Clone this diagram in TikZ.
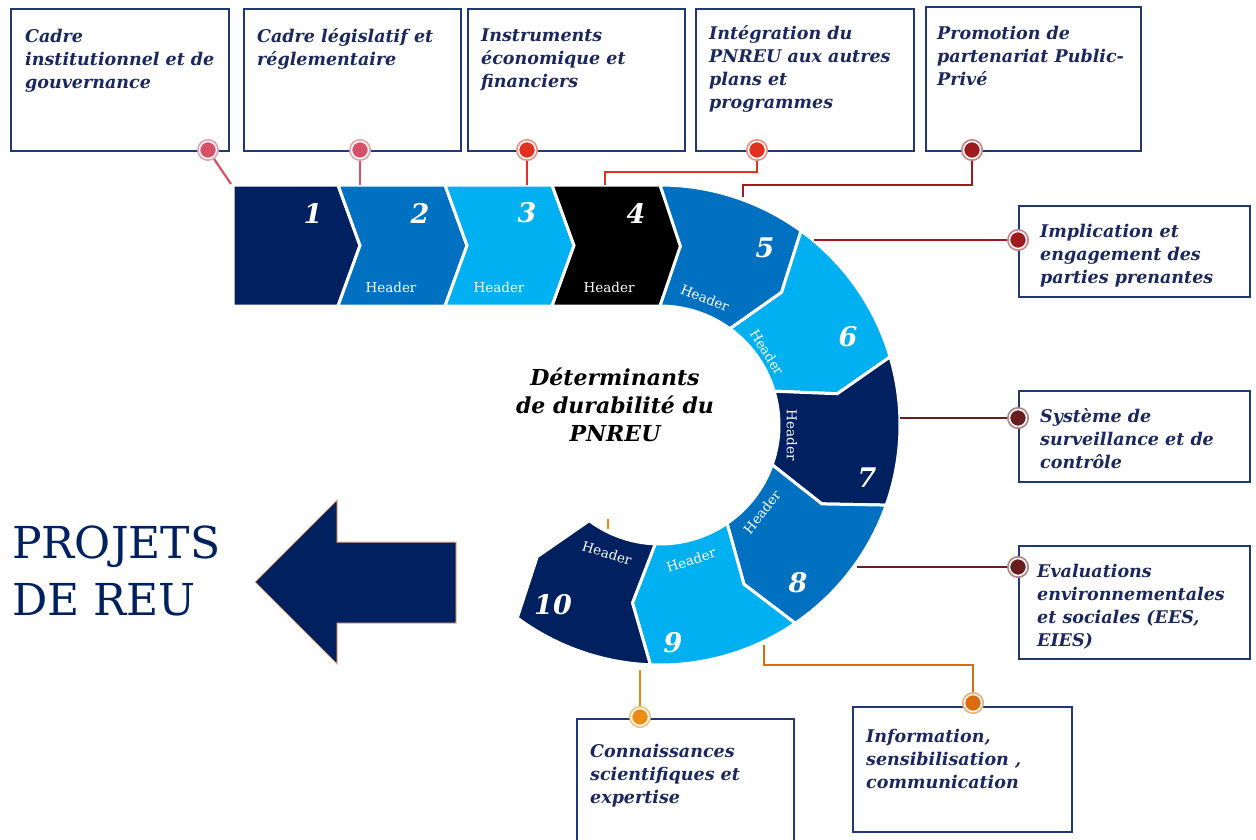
\documentclass[tikz,border=0pt]{standalone}
\usepackage{fontspec}
\setmainfont{DejaVu Serif}
\usepackage{xcolor}
\usepackage{tikz}

\definecolor{navyseg}{RGB}{0,32,96}
\definecolor{midblue}{RGB}{0,112,192}
\definecolor{skyblue}{RGB}{0,176,240}
\definecolor{boxline}{RGB}{31,56,120}
\definecolor{boxtextc}{RGB}{27,40,95}
\definecolor{pinrose}{RGB}{214,80,104}
\definecolor{pinred}{RGB}{224,50,30}
\definecolor{pinwine}{RGB}{158,28,30}
\definecolor{pinbrown}{RGB}{105,30,30}
\definecolor{pinorange}{RGB}{236,140,16}
\definecolor{pinamber}{RGB}{222,108,14}
\definecolor{arrowedge}{RGB}{244,177,131}

\tikzset{
  infobox/.style={draw=boxline, line width=2.2pt, fill=white, anchor=north west, inner sep=0pt},
  boxtext/.style={anchor=north west, inner sep=0pt, align=left, text=boxtextc,
    font=\fontsize{17.5}{23}\selectfont\bfseries\itshape},
  dotpin/.style={circle, fill=#1, draw=white, line width=1.5pt, minimum size=17pt,
    inner sep=0pt, outer sep=2.5pt, preaction={draw=#1!55, line width=5pt}},
  link/.style={draw=#1, line width=2.2pt},
  segedge/.style={draw=white, line width=3pt},
  segnum/.style={text=white, font=\fontsize{27}{27}\selectfont\bfseries\itshape},
  seghead/.style={text=white, font=\fontsize{13.5}{14}\selectfont},
}

\begin{document}
\begin{tikzpicture}[x=1pt, y=-1pt]
    \useasboundingbox (0,0) rectangle (1256,839);

    % Boxes
    \node[infobox, minimum width=218, minimum height=142] (b1) at (10,8) {};
    \node[infobox, minimum width=217, minimum height=142] (b2) at (243,8) {};
    \node[infobox, minimum width=217, minimum height=142] (b3) at (467,8) {};
    \node[infobox, minimum width=218, minimum height=142] (b4) at (695,8) {};
    \node[infobox, minimum width=215, minimum height=144] (b5) at (925,6) {};
    \node[infobox, minimum width=231, minimum height=91] (b6) at (1018,205) {};
    \node[infobox, minimum width=231, minimum height=91] (b7) at (1018,390) {};
    \node[infobox, minimum width=231, minimum height=113] (b8) at (1018,545) {};
    \node[infobox, minimum width=217, minimum height=140] (b9) at (576,718) {};
    \node[infobox, minimum width=219, minimum height=125] (b10) at (852,706) {};

    \node[boxtext] (t1) at (25,28.5) {Cadre\\institutionnel et de\\gouvernance};
    \node[boxtext] (t2) at (257,28.5) {Cadre législatif et\\réglementaire};
    \node[boxtext] (t3) at (481,28.5) {Instruments\\économique et\\financiers};
    \node[boxtext] (t4) at (709,25.5) {Intégration du\\PNREU aux autres\\plans et\\programmes};
    \node[boxtext] (t5) at (937,25.5) {Promotion de\\partenariat Public-\\Privé};
    \node[boxtext] (t6) at (1040,223.5) {Implication et\\engagement des\\parties prenantes};
    \node[boxtext] (t7) at (1040,408.5) {Système de\\surveillance et de\\contrôle};
    \node[boxtext] (t8) at (1037,563.5) {Evaluations\\environnementales\\et sociales (EES,\\EIES)};
    \node[boxtext] (t9) at (590,743.5) {Connaissances\\scientifiques et\\expertise};
    \node[boxtext] (t10) at (866,728.5) {Information,\\sensibilisation ,\\communication};

    % Chevrons
    \filldraw[fill=navyseg, segedge] (233,185) -- (338,185) -- (360,245.5) -- (338,306) -- (233,306) -- cycle;
    \foreach \xl/\xr/\col in {338/445/midblue, 445/552/skyblue, 552/660/black}
        \filldraw[fill=\col, segedge] (\xl,185) -- (\xr,185) -- (\xr+22,245.5) -- (\xr,306)
            -- (\xl,306) -- (\xl+22,245.5) -- cycle;

    % Ring
    \begin{scope}[shift={(660,425)}, y=1pt]
        \foreach \a/\b/\col in {90/54/midblue, 54/16.5/skyblue, 16.5/-19.5/navyseg,
                                -19.5/-55.7/midblue, -55.7/-92.3/skyblue, -92.3/-126.5/navyseg}
            \filldraw[fill=\col, segedge] (\a:240) arc[start angle=\a, end angle=\b, radius=240]
                -- ({\b-6.5}:180) -- (\b:119) arc[start angle=\b, end angle=\a, radius=119]
                -- ({\a-6.5}:180) -- cycle;
    \end{scope}

    % Numbers and headers
    \node[segnum] (n1) at (313,213) {1};
    \node[segnum] (n2) at (420,213) {2};
    \node[segnum] (n3) at (527,213) {3};
    \node[segnum] (n4) at (636,213) {4};
    \node[segnum] (n5) at (765,248) {5};
    \node[segnum] (n6) at (848,337) {6};
    \node[segnum] (n7) at (867,478) {7};
    \node[segnum] (n8) at (798,583) {8};
    \node[segnum] (n9) at (673,643) {9};
    \node[segnum] (n10) at (553,605) {10};

    \node[seghead] (h2) at (391,287) {Header};
    \node[seghead] (h3) at (499,287) {Header};
    \node[seghead] (h4) at (609,287) {Header};
    \node[seghead, rotate=-22] (h5) at (705,298) {Header};
    \node[seghead, rotate=-58] (h6) at (767,352) {Header};
    \node[seghead, rotate=-90] (h7) at (792,435) {Header};
    \node[seghead, rotate=52] (h8) at (762,512) {Header};
    \node[seghead, rotate=18] (h9) at (691,560) {Header};
    \node[seghead, rotate=-17] (h10) at (607,553) {Header};

    % Centre title
    \node[align=center, font=\fontsize{22}{28}\selectfont\bfseries\itshape] (title) at (615,405)
        {Déterminants\\de durabilité du\\PNREU};

    % Pins
    \node[dotpin=pinrose] (p1) at (208,150) {};
    \node[dotpin=pinrose] (p2) at (360,150) {};
    \node[dotpin=pinred] (p3) at (527,150) {};
    \node[dotpin=pinred] (p4) at (757,150) {};
    \node[dotpin=pinwine] (p5) at (972,150) {};
    \node[dotpin=pinwine] (p6) at (1018,240) {};
    \node[dotpin=pinbrown] (p7) at (1018,418) {};
    \node[dotpin=pinbrown] (p8) at (1018,567) {};
    \node[dotpin=pinorange] (p9) at (640,717) {};
    \node[dotpin=pinamber] (p10) at (973,703) {};

    % Connectors
    \coordinate (c1) at (231,184);
    \coordinate (c2) at (360,185);
    \coordinate (c3) at (527,185);
    \coordinate (c4) at (605,185);
    \coordinate (c5) at (743,197);
    \coordinate (c6) at (814,240);
    \coordinate (c7) at (900,418);
    \coordinate (c8) at (857,567);
    \coordinate (c9) at (640,670);
    \coordinate (c10) at (764,645);
    \coordinate (tk1) at (608,519);
    \coordinate (tk2) at (608,529);

    \draw[link=pinrose] (p1) -- (c1);
    \draw[link=pinrose] (p2) -- (c2);
    \draw[link=pinred] (p3) -- (c3);
    \draw[link=pinred] (p4) -- ++(0,22) -| (c4);
    \draw[link=pinwine] (p5) -- ++(0,35) -| (c5);
    \draw[link=pinwine] (p6) -- (c6);
    \draw[link=pinbrown] (p7) -- (c7);
    \draw[link=pinbrown] (p8) -- (c8);
    \draw[link=pinorange] (p9) -- (c9);
    \draw[link=pinamber] (p10) -- ++(0,-38) -| (c10);
    \draw[link=pinorange] (tk1) -- (tk2);

    % Output arrow
    \filldraw[fill=navyseg, draw=arrowedge, line width=1pt] (255,582) -- (337,500) -- (337,542)
        -- (456,542) -- (456,623) -- (337,623) -- (337,664) -- cycle;
    \node[anchor=north west, inner sep=0pt, align=left, text=navyseg,
        font=\fontsize{44}{57}\selectfont] (proj) at (12,526) {PROJETS\\DE REU};
\end{tikzpicture}
\end{document}
